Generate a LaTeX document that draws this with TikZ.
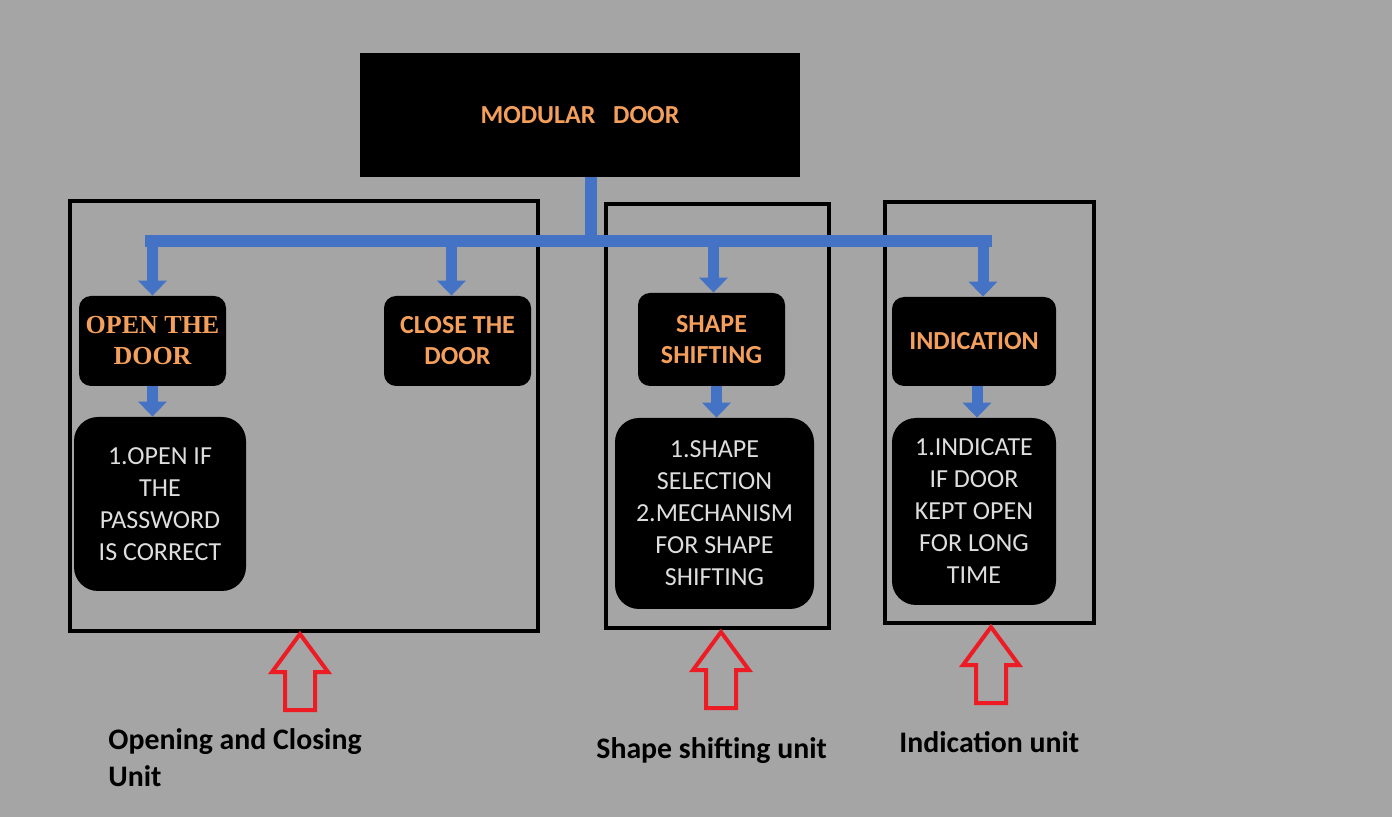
\documentclass[tikz,border=0pt]{standalone}
\usepackage{fontspec}
\setmainfont{Carlito}
\newfontfamily\decofont{Liberation Serif}
\usetikzlibrary{arrows.meta,calc}
\definecolor{bg}{RGB}{165,165,165}
\definecolor{barblue}{RGB}{68,114,196}
\definecolor{orangetxt}{RGB}{244,160,92}
\definecolor{lighttxt}{RGB}{222,222,222}
\definecolor{redarrow}{RGB}{237,28,36}
\begin{document}
\begin{tikzpicture}[x=0.5pt,y=-0.5pt,
 topbox/.style={fill=black, minimum width=220pt, minimum height=62pt, inner sep=0pt, text=orangetxt, font=\bfseries\fontsize{13}{15.5}\selectfont},
 smallbox/.style={fill=black, rounded corners=6pt, inner sep=0pt, align=center, text=orangetxt, font=\bfseries\fontsize{13}{15.5}\selectfont},
 bigbox/.style={fill=black, rounded corners=12pt, inner sep=0pt, align=center, text=lighttxt, font=\fontsize{13}{16}\selectfont},
 groupbox/.style={draw=black, line width=2pt, inner sep=0pt},
 flow/.style={draw=barblue, line width=5.5pt, -{Triangle[width=14pt,length=7.5pt]}},
 bar/.style={draw=barblue, line width=6pt},
 hollow/.style={draw=redarrow, line width=2pt, line join=miter},
 unitlabel/.style={font=\bfseries\fontsize{14.9}{18.5}\selectfont, inner sep=0pt, anchor=base west},
 uparrow/.pic={\draw[hollow] (0,0) -- (28,38) -- (15,38) -- (15,76) -- (-15,76) -- (-15,38) -- (-28,38) -- cycle;}
]
\fill[bg] (0,0) rectangle (1392,817);
\useasboundingbox (0,0) rectangle (1392,817);

% group frames
\node[groupbox, minimum width=234pt, minimum height=215pt] (g1) at (304,416) {};
\node[groupbox, minimum width=111.5pt, minimum height=212pt] (g2) at (717.5,416) {};
\node[groupbox, minimum width=104.5pt, minimum height=210.5pt] (g3) at (989.5,412.5) {};

% top box
\node[topbox] (top) at (580,115) {MODULAR\ \ \ DOOR};

% small boxes
\node[smallbox, minimum width=73.5pt, minimum height=45pt] (open) at (152.5,341) {\decofont OPEN THE\\\decofont DOOR};
\node[smallbox, minimum width=73.5pt, minimum height=45pt] (close) at (457.5,341) {CLOSE THE\\DOOR};
\node[smallbox, minimum width=73.5pt, minimum height=46.5pt] (shape) at (711.5,339.5) {SHAPE\\SHIFTING};
\node[smallbox, minimum width=82pt, minimum height=44.5pt] (ind) at (974,341.5) {INDICATION};

% big boxes
\node[bigbox, minimum width=86pt, minimum height=87pt] (bopen) at (160,504) {1.OPEN IF\\THE\\PASSWORD\\IS CORRECT};
\node[bigbox, minimum width=99.5pt, minimum height=95.5pt] (bshape) at (714.5,513.5) {1.SHAPE\\SELECTION\\2.MECHANISM\\FOR SHAPE\\SHIFTING};
\node[bigbox, minimum width=82pt, minimum height=93.5pt] (bind) at (974,511.5) {1.INDICATE\\IF DOOR\\KEPT OPEN\\FOR LONG\\TIME};

% blue bar
\coordinate (barL) at (145,241);
\coordinate (barR) at (992,241);
\draw[bar] ([xshift=5.5pt]top.south) -- ([xshift=5.5pt]top.south |- barL);
\draw[bar] (barL) -- (barR);

% arrows down
\draw[flow] (open.north |- barL) -- (open.north);
\draw[flow] ([xshift=-3pt]close.north |- barL) -- ([xshift=-3pt]close.north);
\draw[flow] ([xshift=1pt]shape.north |- barL) -- ([xshift=1pt]shape.north);
\draw[flow] ([xshift=4.5pt]ind.north |- barL) -- ([xshift=4.5pt]ind.north);

\draw[flow] (open.south) -- (open.south |- bopen.north);
\draw[flow] ([xshift=2.5pt]shape.south) -- ([xshift=2.5pt]shape.south |- bshape.north);
\draw[flow] ([xshift=1.5pt]ind.south) -- ([xshift=1.5pt]ind.south |- bind.north);

% red hollow arrows
\pic at (300,634) {uparrow};
\pic at (721,632) {uparrow};
\pic at (991,627) {uparrow};

% labels
\node[unitlabel] (l1) at (108,749) {Opening and Closing};
\node[unitlabel] (l1b) at (108,786) {Unit};
\node[unitlabel] (l2) at (596,758) {Shape shifting unit};
\node[unitlabel] (l3) at (899,752) {Indication unit};
\end{tikzpicture}
\end{document}
